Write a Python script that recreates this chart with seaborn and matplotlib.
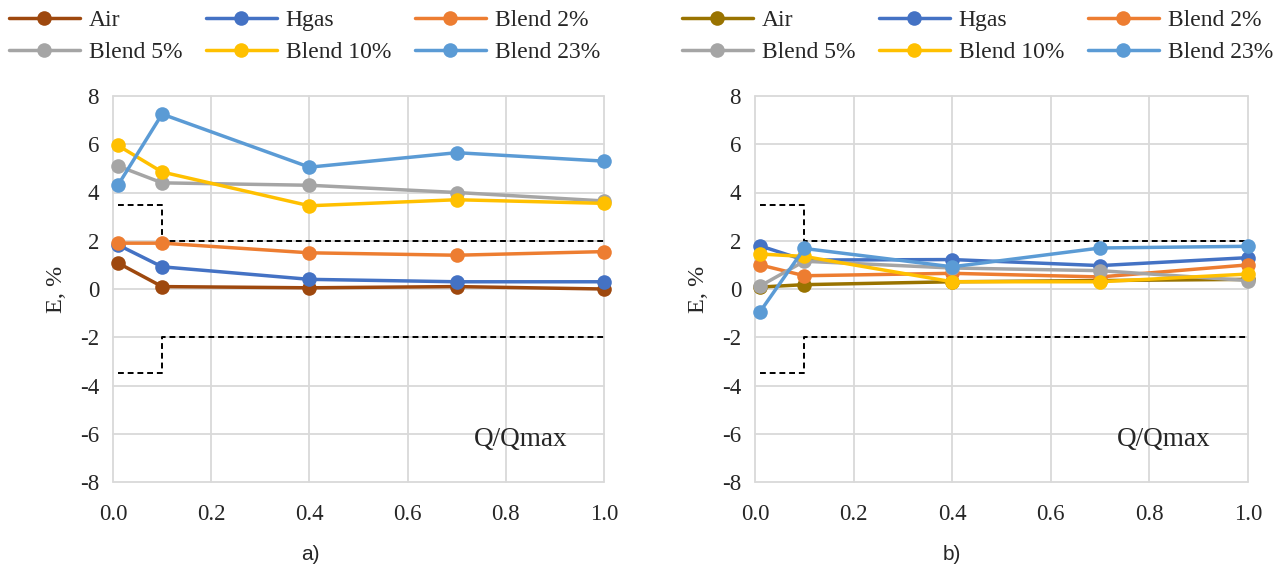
import numpy as np
import pandas as pd
import matplotlib
matplotlib.use("Agg")
import matplotlib.pyplot as plt
import seaborn as sns

# ---- data ----
q_ratio = [0.01, 0.1, 0.4, 0.7, 1.0]
series = ["Air", "Hgas", "Blend 2%", "Blend 5%", "Blend 10%", "Blend 23%"]

a_air = [1.08, 0.1, 0.05, 0.1, 0.0]
a_hgas = [1.83, 0.92, 0.4, 0.3, 0.3]
a_b2 = [1.9, 1.9, 1.5, 1.4, 1.55]
a_b5 = [5.1, 4.4, 4.3, 4.0, 3.65]
a_b10 = [5.95, 4.85, 3.45, 3.7, 3.55]
a_b23 = [4.3, 7.25, 5.05, 5.65, 5.3]

b_air = [0.08, 0.18, 0.3, 0.35, 0.4]
b_hgas = [1.79, 1.2, 1.22, 0.97, 1.3]
b_b2 = [1.0, 0.55, 0.65, 0.5, 1.0]
b_b5 = [0.12, 1.15, 0.87, 0.76, 0.35]
b_b10 = [1.45, 1.35, 0.3, 0.3, 0.62]
b_b23 = [-0.95, 1.68, 0.92, 1.7, 1.77]

limit_x = [0.01, 0.1, 0.1, 1.0]
limit_upper = [3.5, 3.5, 2.0, 2.0]
limit_lower = [-3.5, -3.5, -2.0, -2.0]

x_ticks = [0.0, 0.2, 0.4, 0.6, 0.8, 1.0]
y_ticks = [-8, -6, -4, -2, 0, 2, 4, 6, 8]

colors_common = {"Hgas": "#4472C4", "Blend 2%": "#ED7D31", "Blend 5%": "#A5A5A5",
                 "Blend 10%": "#FFC000", "Blend 23%": "#5B9BD5"}

def long_df(vals):
    rows = []
    for name, v in zip(series, vals):
        for x, y in zip(q_ratio, v):
            rows.append({"Q": x, "E": y, "series": name})
    return pd.DataFrame(rows)

df_a = long_df([a_air, a_hgas, a_b2, a_b5, a_b10, a_b23])
df_b = long_df([b_air, b_hgas, b_b2, b_b5, b_b10, b_b23])

sns.set_theme(style="white")
serif = ["Liberation Serif", "DejaVu Serif"]
plt.rcParams["font.family"] = serif

fig = plt.figure(figsize=(12.82, 5.67), dpi=100)
ax_a = fig.add_axes([113/1282, 1-482/567, 491/1282, 386/567])
ax_b = fig.add_axes([755/1282, 1-482/567, 493/1282, 386/567])

def draw(ax, df, air_color, legend_x):
    pal = dict(colors_common)
    pal["Air"] = air_color
    sns.lineplot(data=df, x="Q", y="E", hue="series", hue_order=series, palette=pal,
                 marker="o", markersize=10.5, markeredgewidth=0, linewidth=2.5,
                 sort=False, estimator=None, ax=ax, clip_on=False, zorder=3)
    lim = pd.DataFrame({"x": limit_x, "u": limit_upper, "l": limit_lower})
    for col in ["u", "l"]:
        sns.lineplot(data=lim, x="x", y=col, sort=False, estimator=None, ax=ax,
                     color="black", linewidth=1.4, linestyle=(0, (3, 2)), zorder=2)
    ax.set_xlim(0, 1)
    ax.set_ylim(-8, 8)
    ax.set_xticks(x_ticks)
    ax.set_xticklabels([f"{t:.1f}" for t in x_ticks])
    ax.set_yticks(y_ticks)
    ax.set_yticklabels([str(t) for t in y_ticks])
    ax.grid(True, color="#D9D9D9", linewidth=1.3, zorder=0)
    for gl in ax.get_xgridlines() + ax.get_ygridlines():
        gl.set_clip_on(False)
    for s in ax.spines.values():
        s.set_visible(False)
    ax.tick_params(axis="both", length=0, labelsize=16.5)
    ax.tick_params(axis="x", pad=16)
    ax.tick_params(axis="y", pad=10)
    ax.set_xlabel("")
    ax.set_ylabel("E, %", fontsize=17.5, labelpad=9)
    ax.text(0.735, -6.25, "Q/Qmax", fontsize=19.5, va="center", ha="left")
    handles, labels = ax.get_legend_handles_labels()
    hm = dict(zip(labels, handles))
    order = ["Air", "Blend 5%", "Hgas", "Blend 10%", "Blend 2%", "Blend 23%"]
    ax.legend([hm[o] for o in order], order, ncol=3, frameon=False,
              loc="upper left", bbox_to_anchor=(legend_x, 0.983),
              bbox_transform=fig.transFigure, fontsize=17, handlelength=3.0,
              handletextpad=0.38, columnspacing=1.0, labelspacing=0.45,
              borderaxespad=0, borderpad=0)

draw(ax_a, df_a, "#9E480E", 9/1282)
draw(ax_b, df_b, "#997300", 682/1282)

fig.text(310/1282, 1-555/567, "a)", fontsize=15, family=["Liberation Sans", "DejaVu Sans"],
         ha="center", va="center")
fig.text(952/1282, 1-555/567, "b)", fontsize=15, family=["Liberation Sans", "DejaVu Sans"],
         ha="center", va="center")

fig.savefig("out.png", dpi=100, facecolor="white")
